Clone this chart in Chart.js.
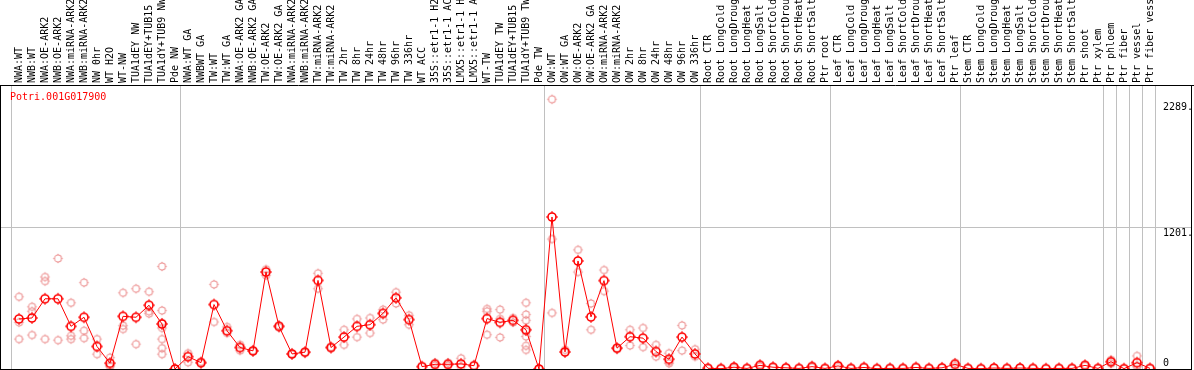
<!DOCTYPE html>
<html>
<head>
<meta charset="utf-8">
<script src="https://cdn.jsdelivr.net/npm/chart.js@4.4.1/dist/chart.umd.min.js"></script>
<style>
  html, body { margin: 0; padding: 0; background: #fff; }
  #wrap { width: 1194px; height: 370px; }
</style>
</head>
<body>
<div id="wrap"><canvas id="expr" width="1194" height="370"></canvas></div>
<script>
// gene expression profile, one column per sample
const geneId = 'Potri.001G017900';

const categories = [
  'NWA:WT', 'NWB:WT', 'NWA:OE-ARK2', 'NWB:OE-ARK2', 'NWA:miRNA-ARK2', 'NWB:miRNA-ARK2', 'NW 0hr', 'WT H2O', 'WT-NW',
  'TUA1dEY NW', 'TUA1dEY+TUB15 NW', 'TUA1dY+TUB9 NW', 'Pde NW',
  'NWA:WT GA', 'NWBWT GA', 'TW:WT', 'TW:WT GA', 'NWA:OE-ARK2 GA', 'NWB:OE-ARK2 GA', 'TW:OE-ARK2', 'TW:OE-ARK2 GA',
  'NWA:miRNA-ARK2', 'NWB:miRNA-ARK2', 'TW:miRNA-ARK2', 'TW:miRNA-ARK2', 'TW 2hr', 'TW 8hr', 'TW 24hr', 'TW 48hr',
  'TW 96hr', 'TW 336hr', 'WT ACC', '35S::etr1-1 H2O', '35S::etr1-1 ACC', 'LMX5::etr1-1 H2O', 'LMX5::etr1-1 ACC',
  'WT-TW', 'TUA1dEY TW', 'TUA1dEY+TUB15 TW', 'TUA1dY+TUB9 TW', 'Pde TW',
  'OW:WT', 'OW:WT GA', 'OW:OE-ARK2', 'OW:OE-ARK2 GA', 'OW:miRNA-ARK2', 'OW:miRNA-ARK2', 'OW 2hr', 'OW 8hr',
  'OW 24hr', 'OW 48hr', 'OW 96hr', 'OW 336hr',
  'Root CTR', 'Root LongCold', 'Root LongDrought', 'Root LongHeat', 'Root LongSalt', 'Root ShortCold',
  'Root ShortDrought', 'Root ShortHeat', 'Root ShortSalt', 'Ptr root',
  'Leaf CTR', 'Leaf LongCold', 'Leaf LongDrought', 'Leaf LongHeat', 'Leaf LongSalt', 'Leaf ShortCold',
  'Leaf ShortDrought', 'Leaf ShortHeat', 'Leaf ShortSalt', 'Ptr leaf',
  'Stem CTR', 'Stem LongCold', 'Stem LongDrought', 'Stem LongHeat', 'Stem LongSalt', 'Stem ShortCold',
  'Stem ShortDrought', 'Stem ShortHeat', 'Stem ShortSalt', 'Ptr shoot', 'Ptr xylem',
  'Ptr phloem', 'Ptr fiber', 'Ptr vessel', 'Ptr fiber vessel'
];

const means = [
  425, 433, 596, 596, 362, 439, 191, 49, 447, 439, 541, 382, 0,
  105, 54, 547, 325, 182, 154, 823, 362, 128, 143, 752, 182, 271, 362, 376, 472,
  604, 419, 20, 40, 40, 43, 28, 428, 396, 413, 333, 0,
  1290, 145, 917, 442, 750, 177, 274, 262, 148, 83, 271, 128,
  6, 3, 15, 5, 31, 15, 10, 5, 20, 5,
  26, 5, 13, 3, 5, 5, 13, 5, 10, 40,
  5, 3, 8, 5, 8, 5, 3, 5, 5, 31, 5,
  62, 3, 54, 5
];

const replicates = [
  [613, 396, 254], [528, 490, 288], [781, 746, 254], [938, 245], [562, 282, 254], [733, 325, 262],
  [254, 126], [97, 20, 30], [647, 368, 339], [681, 211], [656, 490, 470],
  [870, 496, 391, 348, 254, 177, 126], [0],
  [134, 57], [60, 48], [718, 399], [357, 305], [205, 156], [154, 150], [846, 795], [370, 355],
  [128, 125], [143, 140], [812, 681], [185, 180], [333, 205], [425, 271], [433, 305], [504, 419],
  [652, 556], [456, 376], [20], [54, 30], [54, 30], [91, 20], [28], [510, 490, 291],
  [504, 425, 268], [433, 395], [562, 462, 413, 319, 276, 197, 162], [0],
  [2289, 1103, 476], [162, 140], [1011, 823], [556, 333], [840, 661], [177, 170], [333, 199],
  [348, 186], [205, 105], [134, 48, 60], [370, 156], [168, 105],
  [6], [3], [20, 10], [5], [40, 22], [15], [10], [5], [25, 15], [5],
  [35, 18], [5], [13], [3], [5], [5], [13], [5], [10], [55, 25],
  [5], [3], [8], [5], [8], [5], [3], [5], [5], [35, 27], [5],
  [77, 62, 45], [3], [111, 20, 30], [5]
];

// first column of every sample group (last entry closes the plot)
const groupStarts = [0, 13, 41, 53, 63, 73, 84, 85, 86, 87, 88];
const gridValue = 1201;
const axisValues = [0, 1201, 2289];
const axisLabels = ['0', '1201.', '2289.'];
const yMax = 2410;

const MONO = '"DejaVu Sans Mono", monospace';

function marker(color, r, lw, tick) {
  const size = 2 * r + 6;
  const c = document.createElement('canvas');
  c.width = c.height = size;
  const g = c.getContext('2d');
  const m = size / 2;
  g.strokeStyle = color;
  g.lineWidth = lw;
  g.beginPath();
  g.arc(m, m, r, 0, Math.PI * 2);
  g.stroke();
  g.lineWidth = 1;
  g.beginPath();
  g.moveTo(m, m - r - tick); g.lineTo(m, m - r);
  g.moveTo(m, m + r); g.lineTo(m, m + r + tick);
  g.moveTo(m - r - tick, m); g.lineTo(m - r, m);
  g.moveTo(m + r, m); g.lineTo(m + r + tick, m);
  g.stroke();
  return c;
}

const meanMark = marker('#ff0000', 4, 1.6, 2);
const repMark = marker('#ec8f8f', 3.5, 1.1, 1.2);

const repCount = Math.max(...replicates.map(r => r.length));
const repSets = [];
for (let k = 0; k < repCount; k++) {
  repSets.push({
    data: replicates.map(r => (r.length > k ? r[k] : null)),
    showLine: false,
    pointStyle: repMark,
    pointRadius: 5,
    order: 2,
    clip: false
  });
}

const framePlugin = {
  id: 'frame',
  beforeDatasetsDraw(chart) {
    const { ctx, chartArea: a, scales: { x, y } } = chart;
    ctx.save();
    ctx.strokeStyle = '#c0c0c0';
    ctx.lineWidth = 1;
    ctx.beginPath();
    const gy = Math.round(y.getPixelForValue(gridValue)) + 0.5;
    ctx.moveTo(0, gy);
    ctx.lineTo(1192, gy);
    groupStarts.forEach(i => {
      const px = Math.floor(x.getPixelForValue(i) - 8) + 0.5;
      ctx.moveTo(px, a.top);
      ctx.lineTo(px, a.bottom);
    });
    ctx.stroke();
    ctx.restore();
  },
  afterDatasetsDraw(chart) {
    const { ctx, chartArea: a, scales: { y } } = chart;
    ctx.save();
    ctx.strokeStyle = '#000';
    ctx.lineWidth = 1;
    ctx.beginPath();
    ctx.moveTo(0, a.top + 0.5); ctx.lineTo(1194, a.top + 0.5);
    ctx.moveTo(0, a.bottom + 0.5); ctx.lineTo(1192, a.bottom + 0.5);
    ctx.moveTo(0.5, a.top); ctx.lineTo(0.5, a.bottom);
    ctx.moveTo(1191.5, a.top); ctx.lineTo(1191.5, a.bottom);
    ctx.stroke();

    ctx.font = '10px ' + MONO;
    ctx.textBaseline = 'middle';
    ctx.textAlign = 'left';
    ctx.fillStyle = '#ff0000';
    ctx.fillText(geneId, 10, a.top + 12);

    ctx.fillStyle = '#000';
    const shift = [-6, 6, 8];
    axisValues.forEach((v, i) => {
      ctx.fillText(axisLabels[i], 1163, y.getPixelForValue(v) + shift[i]);
    });
    ctx.restore();
  }
};

new Chart(document.getElementById('expr'), {
  type: 'line',
  data: {
    labels: categories,
    datasets: [
      {
        data: means,
        borderColor: '#ff0000',
        borderWidth: 1,
        pointStyle: meanMark,
        pointRadius: 5,
        tension: 0,
        order: 1,
        clip: false
      },
      ...repSets
    ]
  },
  options: {
    responsive: false,
    animation: false,
    events: [],
    layout: { autoPadding: false, padding: { left: 12.5, right: 37.5, top: 0, bottom: 1 } },
    plugins: { legend: { display: false }, tooltip: { enabled: false }, title: { display: false } },
    scales: {
      x: {
        position: 'top',
        offset: true,
        grid: { display: false, drawTicks: false },
        border: { display: false },
        ticks: {
          autoSkip: false,
          minRotation: 90,
          maxRotation: 90,
          padding: 2,
          labelOffset: 12,
          color: '#000',
          font: { family: MONO, size: 10 }
        },
        afterFit(scale) { scale.height = 85; }
      },
      y: { display: false, min: 0, max: yMax }
    }
  },
  plugins: [framePlugin]
});
</script>
</body>
</html>
